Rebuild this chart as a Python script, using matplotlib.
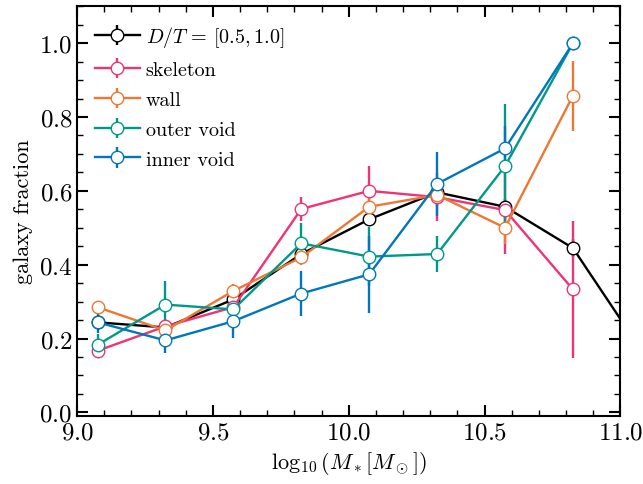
import matplotlib
matplotlib.use('Agg')
import matplotlib.pyplot as plt
from matplotlib.ticker import MultipleLocator

plt.rcParams['font.family'] = 'serif'
plt.rcParams['font.serif'] = ['cmr10']
plt.rcParams['mathtext.fontset'] = 'cm'
plt.rcParams['axes.formatter.use_mathtext'] = True

mass_bins = [9.075, 9.325, 9.575, 9.825, 10.075, 10.325, 10.575, 10.825]
mass_bins_dt = mass_bins + [11.075]

frac_dt = [0.244, 0.23, 0.306, 0.429, 0.523, 0.596, 0.557, 0.445, 0.17]
err_dt = [0.012, 0.01, 0.012, 0.015, 0.018, 0.02, 0.02, 0.025, 0.03]

frac_skeleton = [0.167, 0.233, 0.285, 0.551, 0.600, 0.583, 0.548, 0.333]
err_skeleton = [0.02, 0.02, 0.02, 0.033, 0.067, 0.065, 0.12, 0.185]

frac_wall = [0.285, 0.222, 0.329, 0.420, 0.557, 0.589, 0.500, 0.858]
err_wall = [0.015, 0.015, 0.02, 0.02, 0.03, 0.03, 0.045, 0.095]

frac_outer = [0.183, 0.292, 0.279, 0.458, 0.422, 0.429, 0.667, 1.0]
err_outer = [0.03, 0.065, 0.03, 0.055, 0.08, 0.048, 0.167, 0.0]

frac_inner = [0.244, 0.195, 0.247, 0.322, 0.374, 0.619, 0.715, 1.0]
err_inner = [0.03, 0.033, 0.045, 0.062, 0.105, 0.087, 0.06, 0.0]

fig, ax = plt.subplots(figsize=(6.43, 4.85), dpi=100)

series = [
    (mass_bins_dt, frac_dt, err_dt, 'black', r'$D/T\,=\,[0.5, 1.0]$'),
    (mass_bins, frac_skeleton, err_skeleton, '#EE3377', 'skeleton'),
    (mass_bins, frac_wall, err_wall, '#EE7733', 'wall'),
    (mass_bins, frac_outer, err_outer, '#009988', 'outer void'),
    (mass_bins, frac_inner, err_inner, '#0077BB', 'inner void'),
]
for x, y, e, c, lab in series:
    ax.errorbar(x, y, yerr=e, color=c, marker='o', ms=9, mfc='white',
                mec=c, lw=1.7, elinewidth=1.7, capsize=0, label=lab)

ax.set_xlim(9.0, 11.0)
ax.set_ylim(-0.01, 1.1)
ax.xaxis.set_major_locator(MultipleLocator(0.5))
ax.xaxis.set_minor_locator(MultipleLocator(0.1))
ax.yaxis.set_major_locator(MultipleLocator(0.2))
ax.yaxis.set_minor_locator(MultipleLocator(0.05))
ax.tick_params(which='both', direction='in', top=True, right=True, labelsize=18)
ax.tick_params(which='major', length=8, width=1.5)
ax.tick_params(which='minor', length=4, width=1)
for s in ax.spines.values():
    s.set_linewidth(1.5)

ax.set_xlabel(r'$\log_{10}(M_*[M_\odot])$', fontsize=16)
ax.set_ylabel('galaxy fraction', fontsize=16)
ax.legend(loc='upper left', fontsize=14.5, frameon=False, handlelength=2.2,
          borderaxespad=0.5, labelspacing=0.58, handletextpad=0.3)

fig.subplots_adjust(left=0.12, right=0.965, top=0.985, bottom=0.14)
fig.savefig('out.png', dpi=100)
